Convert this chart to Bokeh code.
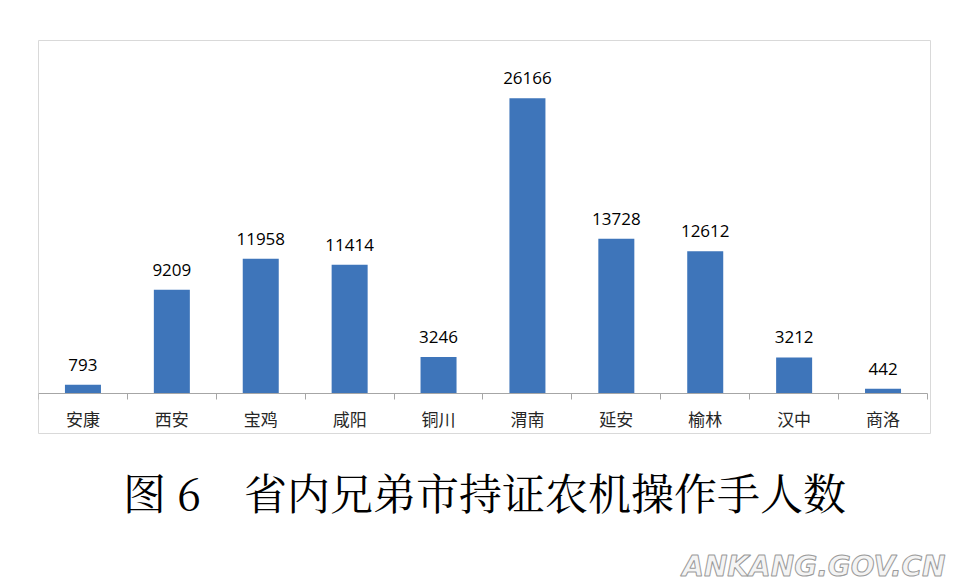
from bokeh.plotting import figure
from bokeh.models import ColumnDataSource, LabelSet, Range1d, FixedTicker, Title
from bokeh.core.properties import value
from bokeh.embed import file_html
from bokeh.resources import INLINE

cities = ["安康", "西安", "宝鸡", "咸阳", "铜川", "渭南", "延安", "榆林", "汉中", "商洛"]
operators = [793, 9209, 11958, 11414, 3246, 26166, 13728, 12612, 3212, 442]
title_text = "图 6　省内兄弟市持证农机操作手人数"
watermark = "ANKANG.GOV.CN"

xs = [i + 0.5 for i in range(len(cities))]
src = ColumnDataSource(dict(x=xs, v=operators, lab=[str(v) for v in operators]))

p = figure(width=952, height=582, output_backend="svg", toolbar_location=None,
           x_range=Range1d(0, len(cities) + 0.034), y_range=Range1d(-3522, 31282),
           min_border_left=38, min_border_right=22, min_border_top=40, min_border_bottom=127)
p.outline_line_color = "#D9D9D9"
p.outline_line_width = 1
p.xgrid.visible = False
p.ygrid.visible = False
p.yaxis.visible = False
p.background_fill_color = "white"
p.border_fill_color = "white"

p.vbar(x="x", top="v", width=0.405, bottom=0, source=src, color="#3E75BA", line_color=None)
p.add_layout(LabelSet(x="x", y="v", text="lab", source=src, text_align="center",
                      text_baseline="bottom", y_offset=14, text_font=value("Open Sans"),
                      text_font_size="17px", text_color="black"))

ax = p.xaxis[0]
ax.fixed_location = 0
ax.bounds = (0, len(cities))
ax.ticker = FixedTicker(ticks=xs, minor_ticks=list(range(len(cities) + 1)))
ax.major_label_overrides = {x: c for x, c in zip(xs, cities)}
ax.major_tick_out = 0
ax.major_tick_in = 0
ax.minor_tick_out = 6
ax.minor_tick_in = 0
ax.axis_line_color = "#A6A6A6"
ax.minor_tick_line_color = "#A6A6A6"
ax.major_label_standoff = 6
ax.major_label_text_font = "Noto Sans CJK SC"
ax.major_label_text_font_size = "17px"
ax.major_label_text_color = "#262626"

t = Title(text=title_text, align="center", text_font="Noto Serif CJK SC, Noto Sans CJK SC",
          text_font_size="43px", text_font_style="normal", text_color="black", standoff=51)
p.add_layout(t, "below")

wm = Title(text=watermark, align="right", offset=-15, text_font="DejaVu Sans",
           text_font_style="bold italic", text_font_size="28px", text_color="#F4F4F4",
           text_outline_color="#9A9A9A", standoff=0)
p.add_layout(wm, "below")

open("out.html", "w").write(file_html(p, INLINE))
